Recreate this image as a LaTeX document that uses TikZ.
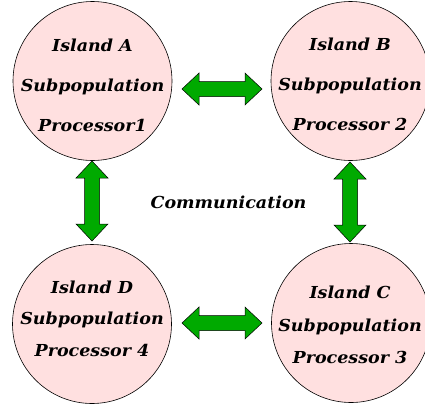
\documentclass[tikz,border=0pt]{standalone}
\usepackage{fontspec}
\setmainfont{DejaVu Serif}
\usetikzlibrary{calc}
\definecolor{islandpink}{RGB}{255,224,224}
\definecolor{arrowgreen}{RGB}{0,170,0}
\newcommand\mywide[1]{\scalebox{1.06}[1]{#1}}
\tikzset{
  island/.style={circle, draw=black, line width=0.6pt, fill=islandpink, minimum size=159pt, inner sep=0pt},
  islandtext/.style={align=center, font=\fontsize{16.5}{#1}\selectfont\bfseries\itshape, inner sep=0pt},
  arrowshape/.style={draw=black, line width=0.5pt, fill=arrowgreen, line join=miter},
}
\newcommand\myHarrow[2]{%
  \draw[arrowshape] let \p1=(#1), \p2=(#2) in
    (\x1,\y1) -- (\x1+17pt,\y1+16pt) -- (\x1+17pt,\y1+7.5pt) -- (\x2-17pt,\y1+7.5pt)
    -- (\x2-17pt,\y1+16pt) -- (\x2,\y1) -- (\x2-17pt,\y1-16pt) -- (\x2-17pt,\y1-7.5pt)
    -- (\x1+17pt,\y1-7.5pt) -- (\x1+17pt,\y1-16pt) -- cycle;}
\newcommand\myVarrow[2]{%
  \draw[arrowshape] let \p1=(#1), \p2=(#2) in
    (\x1,\y1) -- (\x1+16pt,\y1-17pt) -- (\x1+7.5pt,\y1-17pt) -- (\x1+7.5pt,\y2+17pt)
    -- (\x1+16pt,\y2+17pt) -- (\x1,\y2) -- (\x1-16pt,\y2+17pt) -- (\x1-7.5pt,\y2+17pt)
    -- (\x1-7.5pt,\y1-17pt) -- (\x1-16pt,\y1-17pt) -- cycle;}
\begin{document}
\begin{tikzpicture}[x=1pt,y=-1pt]
\useasboundingbox (0,0) rectangle (425,410);
\begin{scope}
\clip (0,0) rectangle (425,410);
\node[island] (A) at (92.5,81) {};
\node[island] (B) at (350.5,81) {};
\node[island] (C) at (351,323) {};
\node[island] (D) at (92,324) {};
\end{scope}
\node[islandtext=40pt] (At) at (92.5,85) {\mywide{Island A}\\\mywide{Subpopulation}\\\mywide{Processor1}};
\node[islandtext=40pt] (Bt) at (350,84) {\mywide{Island B}\\\mywide{Subpopulation}\\\mywide{Processor 2}};
\node[islandtext=32.5pt] (Ct) at (350,325) {\mywide{Island C}\\\mywide{Subpopulation}\\\mywide{Processor 3}};
\node[islandtext=31.5pt] (Dt) at (92,318.5) {\mywide{Island D}\\\mywide{Subpopulation}\\\mywide{Processor 4}};
\node[islandtext=20pt] (comm) at (228.5,202) {\mywide{Communication}};
\coordinate (abL) at (182,89);
\coordinate (abR) at (262,89);
\coordinate (dcL) at (182,323);
\coordinate (dcR) at (262,323);
\coordinate (adT) at (92,161);
\coordinate (adB) at (92,241);
\coordinate (bcT) at (350,162);
\coordinate (bcB) at (350,242);
\myHarrow{abL}{abR}
\myHarrow{dcL}{dcR}
\myVarrow{adT}{adB}
\myVarrow{bcT}{bcB}
\end{tikzpicture}
\end{document}
